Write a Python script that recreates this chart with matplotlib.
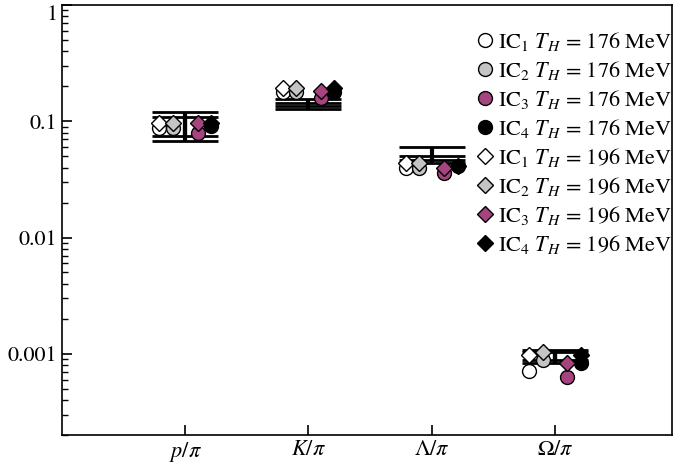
import matplotlib
matplotlib.use('Agg')
import matplotlib.pyplot as plt
from matplotlib.ticker import FixedLocator, LogLocator, NullFormatter

plt.rcParams['font.family'] = 'STIXGeneral'
plt.rcParams['mathtext.fontset'] = 'stix'

# particle ratios on the x axis
ratios = ['$p/\\pi$', '$K/\\pi$', '$\\mathrm{\\Lambda}/\\pi$', '$\\mathrm{\\Omega}/\\pi$']

# experimental data: two measurements per ratio (value, error)
exp_a_val = [0.0934, 0.141, 0.0535, 0.000955]
exp_a_err = [0.0261, 0.014, 0.0070, 0.000125]
exp_b_val = [0.0911, 0.1404, 0.047, 0.000955]
exp_b_err = [0.0169, 0.0044, 0.003, 0.000075]

# model results, T_H = 176 MeV (circles)
ic1_176 = [0.0883, 0.177, 0.0399, 0.000704]
ic2_176 = [0.0883, 0.177, 0.0399, 0.000875]
ic3_176 = [0.0799, 0.160, 0.0361, 0.000634]
ic4_176 = [0.0907, 0.177, 0.0413, 0.00084]

# model results, T_H = 196 MeV (diamonds)
ic1_196 = [0.0975, 0.195, 0.0441, 0.00098]
ic2_196 = [0.0975, 0.195, 0.0441, 0.00103]
ic3_196 = [0.0975, 0.1825, 0.0399, 0.00084]
ic4_196 = [0.0975, 0.195, 0.0413, 0.00098]

ic_names = ['IC$_1$', 'IC$_2$', 'IC$_3$', 'IC$_4$']
colors = ['white', '#c4c4c4', '#a5447f', 'black']
offsets = [-0.21, -0.1, 0.1, 0.21]

fig = plt.figure(figsize=(6.75, 4.68), dpi=100)
ax = fig.add_axes([0.0919, 0.0705, 0.9037, 0.9188])

xpos = [1, 2, 3, 4]
ax.errorbar(xpos, exp_a_val, yerr=exp_a_err, fmt='none', ecolor='black',
            elinewidth=3, capsize=24, capthick=2, zorder=1)
ax.errorbar(xpos, exp_b_val, yerr=exp_b_err, fmt='none', ecolor='black',
            elinewidth=3, capsize=24, capthick=2, zorder=1)

for i, vals in enumerate([ic1_176, ic2_176, ic3_176, ic4_176]):
    ax.plot([x + offsets[i] for x in xpos], vals, 'o', ms=10, mfc=colors[i],
            mec='black', mew=1.0, ls='none', zorder=3,
            label=ic_names[i] + ' $T_H$ = 176 MeV')
for i, vals in enumerate([ic1_196, ic2_196, ic3_196, ic4_196]):
    ax.plot([x + offsets[i] for x in xpos], vals, 'D', ms=8, mfc=colors[i],
            mec='black', mew=1.0, ls='none', zorder=4,
            label=ic_names[i] + ' $T_H$ = 196 MeV')

ax.set_yscale('log')
ax.set_ylim(2e-4, 1)
ax.set_xlim(0, 4.95)
ax.yaxis.set_major_locator(FixedLocator([0.001, 0.01, 0.1, 1]))
ax.set_yticklabels(['0.001', '0.01', '0.1', '1'])
ax.get_yticklabels()[-1].set_va('top')
ax.yaxis.set_minor_locator(LogLocator(base=10, subs=range(2, 10)))
ax.yaxis.set_minor_formatter(NullFormatter())
ax.set_xticks(xpos)
ax.set_xticklabels(ratios)

ax.tick_params(which='both', direction='in', labelsize=16, right=False, top=False)
ax.tick_params(which='major', length=7, width=1.2)
ax.tick_params(which='minor', length=4, width=1.0)
for s in ax.spines.values():
    s.set_linewidth(1.2)

ax.legend(loc='upper right', bbox_to_anchor=(1.0, 1 - 25 / 430), frameon=False,
          fontsize=16, handlelength=0.6, handletextpad=0.3, labelspacing=0.27,
          borderaxespad=0, borderpad=0)

fig.savefig('out.png', dpi=100)
